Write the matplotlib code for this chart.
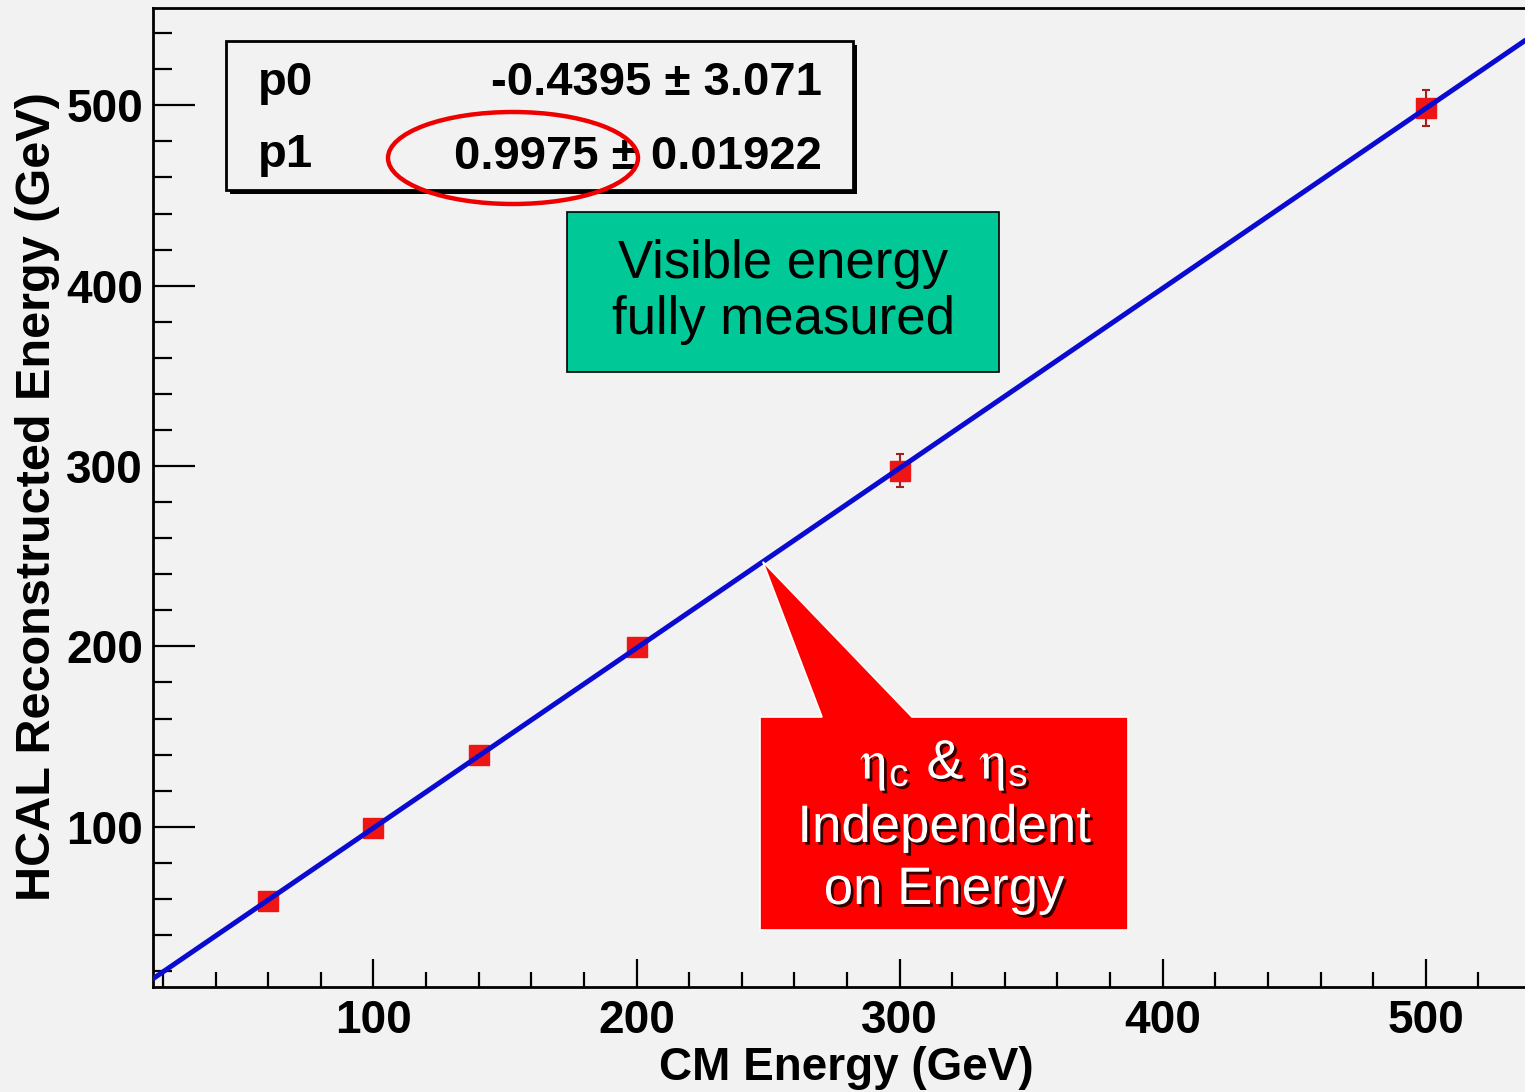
import numpy as np
import matplotlib
matplotlib.use("Agg")
import matplotlib.pyplot as plt
from matplotlib.patches import Rectangle, Ellipse, Polygon
from matplotlib.ticker import MultipleLocator
import matplotlib.patheffects as pe

# ---------- data ----------
cm_energy = [60, 100, 140, 200, 300, 500]
hcal_energy = [59, 99.5, 140, 199.5, 297.5, 498.5]
hcal_err = [2, 3, 3, 4, 9, 10]

p0, p0_err = -0.4395, 3.071
p1, p1_err = 0.9975, 0.01922
fit_range = [16, 540]

x_label = "CM Energy (GeV)"
y_label = "HCAL Reconstructed Energy (GeV)"
green_note = "Visible energy\nfully measured"
red_note = ["$\\mathrm{\\eta}_\\mathregular{c}$ & $\\mathrm{\\eta}_\\mathregular{s}$",
            "Independent", "on Energy"]

# ---------- figure ----------
W, H = 1525, 1092
BG = "#f2f2f2"
plt.rcParams["font.family"] = ["Liberation Sans", "DejaVu Sans"]
plt.rcParams["mathtext.fontset"] = "stix"

fig = plt.figure(figsize=(W / 100, H / 100), dpi=100)
fig.patch.set_facecolor(BG)


def px(x, y):
    # pixel (from top-left) -> figure fraction
    return (x / W, 1 - y / H)


ax = fig.add_axes([152.7 / W, (H - 986.7) / H, (1530 - 152.7) / W, (986.7 - 8.3) / H])
ax.set_facecolor(BG)
ax.set_xlim(16.1, 539.6)
ax.set_ylim(11.3, 553.8)

for s in ["left", "bottom", "top"]:
    ax.spines[s].set_linewidth(2)
ax.spines["right"].set_visible(False)

ax.xaxis.set_major_locator(MultipleLocator(100))
ax.xaxis.set_minor_locator(MultipleLocator(20))
ax.yaxis.set_major_locator(MultipleLocator(100))
ax.yaxis.set_minor_locator(MultipleLocator(20))
ax.tick_params(axis="x", which="major", direction="in", length=20, width=1.6, pad=9,
               labelsize=33)
ax.tick_params(axis="x", which="minor", direction="in", length=10.5, width=1.6)
ax.tick_params(axis="y", which="major", direction="in", length=30, width=1.6, pad=7,
               labelsize=33)
ax.tick_params(axis="y", which="minor", direction="in", length=14, width=1.6)
for lab in ax.get_xticklabels() + ax.get_yticklabels():
    lab.set_fontweight("bold")

# points + fit
ax.errorbar(cm_energy, hcal_energy, yerr=hcal_err, fmt="s", ms=14, color="#ee1515",
            ecolor="#a02020", elinewidth=1.5, capsize=3, capthick=1.5, zorder=3)
xf = np.array(fit_range, dtype=float)
ax.plot(xf, p0 + p1 * xf, color="#0a0ad0", lw=3.6, zorder=4, solid_capstyle="butt")

# axis labels
fig.text(*px(38, 497), y_label, rotation=90, ha="center", va="center",
         fontsize=35, fontweight="bold")
fig.text(*px(846, 1080), x_label, ha="center", va="baseline",
         fontsize=33, fontweight="bold")

# stats box with shadow
fig.patches.append(Rectangle(px(230, 194), 627 / W, 149 / H, transform=fig.transFigure,
                             facecolor="black", edgecolor="none", zorder=5))
fig.patches.append(Rectangle(px(226, 190), 627 / W, 149 / H, transform=fig.transFigure,
                             facecolor=BG, edgecolor="black", lw=2, zorder=6))
fig.text(*px(258, 83), "p0", ha="left", va="center", fontsize=34, fontweight="bold", zorder=7)
fig.text(*px(258, 155), "p1", ha="left", va="center", fontsize=34, fontweight="bold", zorder=7)
fig.text(*px(822, 83), f"{p0:.4f} \u00b1 {p0_err:.3f}", ha="right", va="center",
         fontsize=34, fontweight="bold", zorder=7)
fig.text(*px(822, 157), f"{p1:.4f} \u00b1 {p1_err:.5f}", ha="right", va="center",
         fontsize=34, fontweight="bold", zorder=7)
fig.patches.append(Ellipse(px(513, 158), 250 / W, 92 / H, transform=fig.transFigure,
                           facecolor="none", edgecolor="#ee0000", lw=3.2, zorder=8))

# green note
fig.patches.append(Rectangle(px(567, 372), 432 / W, 160 / H, transform=fig.transFigure,
                             facecolor="#00c896", edgecolor="black", lw=1.2, zorder=6))
fig.text(*px(783, 292), green_note, ha="center", va="center", fontsize=38,
         linespacing=1.15, zorder=7)

# red callout pointing at the fit line
tip_x = 248
tip = fig.transFigure.inverted().transform(ax.transData.transform((tip_x, p0 + p1 * tip_x)))
callout = [px(760, 717), px(822, 717), tuple(tip), px(912, 717), px(1128, 717),
           px(1128, 930), px(760, 930)]
fig.patches.append(Polygon(callout, closed=True, transform=fig.transFigure,
                           facecolor="#ff0000", edgecolor="white", lw=1.2, zorder=6))
shadow = [pe.withSimplePatchShadow(offset=(2, -2), shadow_rgbFace="black", alpha=0.8)]
for txt, yy, fs in zip(red_note, [766, 828, 890], [40, 38, 38]):
    fig.text(*px(944, yy), txt, ha="center", va="center", fontsize=fs, color="white",
             path_effects=shadow, zorder=7)

fig.savefig("out.png", dpi=100, facecolor=BG)
